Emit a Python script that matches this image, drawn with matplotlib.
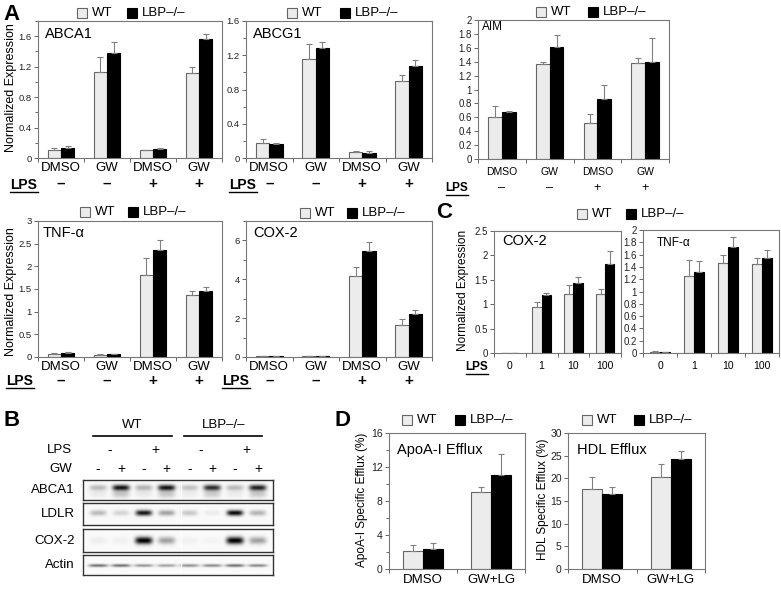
import matplotlib
matplotlib.use('Agg')
import matplotlib.pyplot as plt
import numpy as np
from matplotlib.patches import Rectangle
from matplotlib.lines import Line2D
from matplotlib.transforms import blended_transform_factory

plt.rcParams['font.family'] = ['Liberation Sans', 'DejaVu Sans']

# ---------------- data ----------------
groups_A = ['DMSO', 'GW', 'DMSO', 'GW']
lps_A = ['–', '–', '+', '+']

abca1_wt = [0.11, 1.13, 0.10, 1.12]
abca1_wt_err = [0.02, 0.20, 0.01, 0.07]
abca1_ko = [0.13, 1.38, 0.115, 1.57]
abca1_ko_err = [0.025, 0.15, 0.02, 0.06]

abcg1_wt = [0.18, 1.16, 0.067, 0.90]
abcg1_wt_err = [0.04, 0.17, 0.01, 0.07]
abcg1_ko = [0.165, 1.28, 0.063, 1.08]
abcg1_ko_err = [0.015, 0.07, 0.015, 0.06]

aim_wt = [0.61, 1.36, 0.52, 1.385]
aim_wt_err = [0.15, 0.04, 0.13, 0.07]
aim_ko = [0.68, 1.61, 0.86, 1.39]
aim_ko_err = [0.01, 0.17, 0.20, 0.35]

tnf_wt = [0.07, 0.05, 1.80, 1.36]
tnf_wt_err = [0.02, 0.01, 0.38, 0.10]
tnf_ko = [0.085, 0.057, 2.35, 1.46]
tnf_ko_err = [0.015, 0.01, 0.22, 0.09]

cox2_wt = [0.05, 0.03, 4.15, 1.63]
cox2_wt_err = [0.0, 0.0, 0.47, 0.31]
cox2_ko = [0.03, 0.03, 5.45, 2.20]
cox2_ko_err = [0.0, 0.0, 0.46, 0.22]

lps_doses = ['0', '1', '10', '100']
c_cox2_wt = [0.01, 0.95, 1.21, 1.20]
c_cox2_wt_err = [0.0, 0.09, 0.18, 0.11]
c_cox2_ko = [0.005, 1.18, 1.44, 1.82]
c_cox2_ko_err = [0.0, 0.04, 0.11, 0.28]
c_tnf_wt = [0.02, 1.25, 1.47, 1.44]
c_tnf_wt_err = [0.005, 0.27, 0.13, 0.11]
c_tnf_ko = [0.01, 1.32, 1.72, 1.55]
c_tnf_ko_err = [0.002, 0.18, 0.17, 0.13]

groups_D = ['DMSO', 'GW+LG']
apoa_wt = [2.08, 9.06]
apoa_wt_err = [0.70, 0.60]
apoa_ko = [2.40, 11.1]
apoa_ko_err = [0.66, 2.40]
hdl_wt = [17.55, 20.25]
hdl_wt_err = [2.70, 2.85]
hdl_ko = [16.5, 24.2]
hdl_ko_err = [1.65, 1.80]

blot_proteins = ['ABCA1', 'LDLR', 'COX-2', 'Actin']
blot_lps = ['-', '+', '-', '+']
blot_gw = ['-', '+', '-', '+', '-', '+', '-', '+']
blot_abca1 = [0.25, 0.90, 0.28, 0.90, 0.22, 0.80, 0.25, 0.85]
blot_ldlr = [0.25, 0.15, 0.90, 0.35, 0.20, 0.06, 0.95, 0.28]
blot_cox2 = [0.05, 0.04, 1.00, 0.35, 0.04, 0.03, 1.00, 0.35]
blot_actin = [0.55, 0.55, 0.40, 0.35, 0.42, 0.45, 0.55, 0.45]

# ---------------- figure ----------------
W, H = 781, 590
fig = plt.figure(figsize=(W / 100, H / 100), dpi=100)

WT_FC = '#ececec'
WT_EC = '#666666'
SP_C = '#777777'


def fy(y):
    return 1 - y / H


def fx(x):
    return x / W


def add_ax(x0, y0, x1, y1):
    return fig.add_axes([x0 / W, 1 - y1 / H, (x1 - x0) / W, (y1 - y0) / H])


def ftext(x, y, s, **kw):
    kw.setdefault('ha', 'center')
    kw.setdefault('va', 'center')
    return fig.text(fx(x), fy(y), s, **kw)


def legend(xw, xb, y, fs=9.5, sq=10):
    fig.add_artist(Rectangle((fx(xw), fy(y + sq / 2)), sq / W, sq / H, transform=fig.transFigure,
                             fc=WT_FC, ec=WT_EC, lw=0.8))
    ftext(xw + sq + 5, y, 'WT', ha='left', fontsize=fs)
    fig.add_artist(Rectangle((fx(xb), fy(y + sq / 2)), sq / W, sq / H, transform=fig.transFigure,
                             fc='black', ec='black', lw=0.8))
    ftext(xb + sq + 5, y, 'LBP–/–', ha='left', fontsize=fs)


def lps_label(x, y, fs=10, ul=28):
    ftext(x, y, 'LPS', fontsize=fs, fontweight='bold')
    fig.add_artist(Line2D([fx(x - ul / 2), fx(x + ul / 2)], [fy(y + 7), fy(y + 7)],
                          transform=fig.transFigure, color='black', lw=1.0))


def bar_panel(box, wt, wte, ko, koe, ylim, yticks, yminor, tick_fs=6.8, w=0.29):
    ax = add_ax(*box)
    x = np.arange(len(wt))
    ax.bar(x - w / 2, wt, w, color=WT_FC, edgecolor=WT_EC, lw=0.8, zorder=2)
    ax.bar(x + w / 2, ko, w, color='black', edgecolor='black', lw=0.8, zorder=2)
    ax.errorbar(x - w / 2, wt, yerr=[np.zeros(len(wt)), wte], fmt='none', ecolor='#808080',
                elinewidth=0.8, capsize=2, capthick=0.8, zorder=3)
    ax.errorbar(x + w / 2, ko, yerr=[np.zeros(len(ko)), koe], fmt='none', ecolor='#808080',
                elinewidth=0.8, capsize=2, capthick=0.8, zorder=3)
    ax.set_xlim(-0.5, len(wt) - 0.5)
    ax.set_ylim(*ylim)
    ax.set_yticks(yticks)
    ax.set_yticklabels([f'{v:g}' for v in yticks], fontsize=tick_fs, color='#222222')
    ax.set_yticks(yminor, minor=True)
    ax.set_xticks(np.arange(len(wt) + 1) - 0.5)
    ax.set_xticklabels([])
    ax.tick_params(axis='both', which='both', direction='out', length=3, width=0.7,
                   color='#666666', pad=1.5)
    ax.tick_params(axis='y', which='minor', length=2)
    for s in ax.spines.values():
        s.set_color(SP_C)
        s.set_linewidth(0.8)
    return ax


def group_labels(ax, labels, y, fs=9.5, **kw):
    tr = blended_transform_factory(ax.transData, fig.transFigure)
    for i, lab in enumerate(labels):
        ax.text(i, fy(y), lab, transform=tr, ha='center', va='center', fontsize=fs, **kw)


# ---------------- Panel A (top row) ----------------
ax = bar_panel((38, 21, 222, 158), abca1_wt, abca1_wt_err, abca1_ko, abca1_ko_err,
               (0, 1.8), np.arange(0, 1.61, 0.4), np.arange(0, 1.81, 0.2))
group_labels(ax, groups_A, 168)
group_labels(ax, lps_A, 184, fs=11, fontweight='bold')
lps_label(24, 185)
ftext(45, 34, 'ABCA1', ha='left', fontsize=10.5)
legend(77, 127, 13)
ftext(11, 88, 'Normalized Expression', rotation=90, fontsize=9)

ax = bar_panel((246, 21, 432, 158), abcg1_wt, abcg1_wt_err, abcg1_ko, abcg1_ko_err,
               (0, 1.6), np.arange(0, 1.61, 0.4), np.arange(0, 1.61, 0.2))
group_labels(ax, groups_A, 168)
group_labels(ax, lps_A, 184, fs=11, fontweight='bold')
lps_label(243, 185)
ftext(253, 34, 'ABCG1', ha='left', fontsize=10.5)
legend(287, 340, 13)

ax = bar_panel((478, 20, 669, 159), aim_wt, aim_wt_err, aim_ko, aim_ko_err,
               (0, 2.0), np.round(np.arange(0, 2.01, 0.2), 1), [], tick_fs=7)
group_labels(ax, groups_A, 172, fs=7.5)
group_labels(ax, lps_A, 188, fs=9)
lps_label(457, 188, fs=8.5, ul=22)
ftext(482, 27, 'AIM', ha='left', fontsize=8.5)
legend(536, 588, 12)

# ---------------- Panel A (bottom row) ----------------
ax = bar_panel((38, 221, 222, 357), tnf_wt, tnf_wt_err, tnf_ko, tnf_ko_err,
               (0, 3.0), np.arange(0, 3.01, 0.5), [])
group_labels(ax, groups_A, 367)
group_labels(ax, lps_A, 381, fs=11, fontweight='bold')
lps_label(20, 381)
ftext(43, 233, 'TNF-α', ha='left', fontsize=10.5)
legend(80, 128, 212)
ftext(11, 292, 'Normalized Expression', rotation=90, fontsize=9)

ax = bar_panel((246, 221, 432, 357), cox2_wt, cox2_wt_err, cox2_ko, cox2_ko_err,
               (0, 7.0), np.arange(0, 6.1, 2), np.arange(0, 7.1, 1))
group_labels(ax, groups_A, 367)
group_labels(ax, lps_A, 381, fs=11, fontweight='bold')
lps_label(236, 381)
ftext(253, 233, 'COX-2', ha='left', fontsize=10.5)
legend(300, 347, 213)

# ---------------- Panel C ----------------
ax = bar_panel((494, 231, 621, 353), c_cox2_wt, c_cox2_wt_err, c_cox2_ko, c_cox2_ko_err,
               (0, 2.5), np.arange(0, 2.51, 0.5), [], tick_fs=7)
group_labels(ax, lps_doses, 366, fs=7.5)
lps_label(477, 367, fs=8.5, ul=22)
ftext(502, 241, 'COX-2', ha='left', fontsize=10.5)
ftext(463, 290, 'Normalized Expression', rotation=90, fontsize=8.5)

ax = bar_panel((643, 230, 779, 353), c_tnf_wt, c_tnf_wt_err, c_tnf_ko, c_tnf_ko_err,
               (0, 2.0), np.round(np.arange(0, 2.01, 0.2), 1), [], tick_fs=7)
group_labels(ax, lps_doses, 366, fs=7.5)
ftext(657, 243, 'TNF-α', ha='left', fontsize=8.5)
legend(577, 626, 214)

# ---------------- Panel D ----------------
ax = bar_panel((389, 433, 525, 569), apoa_wt, apoa_wt_err, apoa_ko, apoa_ko_err,
               (0, 16), np.arange(0, 16.1, 4), np.arange(0, 16.1, 2), tick_fs=7.5)
group_labels(ax, groups_D, 580)
ftext(397, 450, 'ApoA-I Efflux', ha='left', fontsize=10.5)
ftext(362, 500, 'ApoA-I Specific Efflux (%)', rotation=90, fontsize=8.5)
legend(402, 455, 420)

ax = bar_panel((568, 433, 705, 569), hdl_wt, hdl_wt_err, hdl_ko, hdl_ko_err,
               (0, 30), np.arange(0, 30.1, 5), [], tick_fs=7.5)
group_labels(ax, groups_D, 580)
ftext(577, 450, 'HDL Efflux', ha='left', fontsize=10.5)
ftext(543, 499, 'HDL Specific Efflux (%)', rotation=90, fontsize=8.5)
legend(582, 634, 420)

# ---------------- Panel B (western blot) ----------------
xlo, xhi = -0.66, 7.66
strip_boxes = [(83, 480, 273, 500), (83, 503, 273, 525), (83, 529, 273, 552), (83, 555, 273, 575)]
strip_vals = [blot_abca1, blot_ldlr, blot_cox2, blot_actin]
strip_shape = [(0.62, 0.15, 0.38), (0.55, 0.13, 0.36), (0.50, 0.16, 0.38), (0.45, 0.07, 0.42)]
xs = np.linspace(xlo, xhi, 400)
ys = np.linspace(0, 1, 60)
X, Y = np.meshgrid(xs, ys)
blot_axes = []
for box, vals, (yc, sy, wx), name in zip(strip_boxes, strip_vals, strip_shape, blot_proteins):
    bx = add_ax(*box)
    img = np.full_like(X, 0.02)
    for i, v in enumerate(vals):
        img += v * np.exp(-((X - i) / wx) ** 4) * np.exp(-((Y - yc) / sy) ** 2)
        if name == 'ABCA1':
            img += 0.22 * v * np.exp(-((X - i) / wx) ** 4) * np.exp(-((Y - 0.3) / 0.2) ** 2)
    bx.imshow(np.clip(img, 0, 1), extent=[xlo, xhi, 0, 1], origin='lower', aspect='auto',
              cmap='gray_r', vmin=0, vmax=1, interpolation='bilinear')
    bx.axvline(3.64, color='white', lw=0.8, alpha=0.8)
    bx.set_xlim(xlo, xhi)
    bx.set_ylim(0, 1)
    bx.set_xticks([])
    bx.set_yticks([])
    for s in bx.spines.values():
        s.set_color('#333333')
        s.set_linewidth(1.0)
    ftext(75, (box[1] + box[3]) / 2, name, ha='right', fontsize=9.5)
    blot_axes.append(bx)

btr = blended_transform_factory(blot_axes[0].transData, fig.transFigure)
for i, s in enumerate(blot_gw):
    blot_axes[0].text(i, fy(469), s, transform=btr, ha='center', va='center', fontsize=10)
for j, s in enumerate(blot_lps):
    blot_axes[0].text(2 * j + 0.5, fy(450), s, transform=btr, ha='center', va='center', fontsize=10)
ftext(72, 450, 'LPS', ha='right', fontsize=9.5)
ftext(72, 469, 'GW', ha='right', fontsize=9.5)
blot_axes[0].text(1.5, fy(425), 'WT', transform=btr, ha='center', va='center', fontsize=9.5)
blot_axes[0].text(5.5, fy(425), 'LBP–/–', transform=btr, ha='center', va='center', fontsize=9.5)
for a, b in [(-0.22, 3.25), (3.77, 7.2)]:
    blot_axes[0].add_artist(Line2D([a, b], [fy(436), fy(436)], transform=btr, color='black',
                                   lw=1.2, clip_on=False))

# ---------------- panel letters ----------------
ftext(12, 14, 'A', fontsize=16, fontweight='bold')
ftext(12, 421, 'B', fontsize=16, fontweight='bold')
ftext(444, 213, 'C', fontsize=16, fontweight='bold')
ftext(342, 421, 'D', fontsize=16, fontweight='bold')

fig.savefig('out.png', dpi=100)
